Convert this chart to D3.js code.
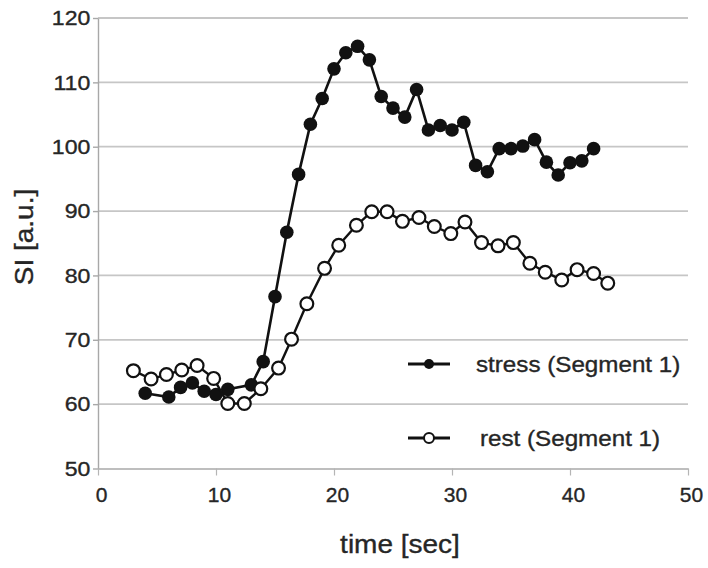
<!DOCTYPE html>
<html>
<head>
<meta charset="utf-8">
<script src="https://cdn.jsdelivr.net/npm/d3@7/dist/d3.min.js"></script>
<style>
  body { margin: 0; background: #fff; }
  text { font-family: "Liberation Sans", Arial, Helvetica, sans-serif; fill: #262626; stroke: #262626; stroke-width: 0.35px; }
</style>
</head>
<body>
<div id="chart"></div>
<script>
'use strict';

// data
var stressTime = [4, 6, 7, 8, 9, 10, 11, 13, 14, 15, 16, 17, 18, 19, 20, 21, 22, 23,
                  24, 25, 26, 27, 28, 29, 30, 31, 32, 33, 34, 35, 36, 37, 38, 39, 40, 41, 42];
var stressSI = [61.7, 61.1, 62.6, 63.3, 62.0, 61.5, 62.3, 63.0, 66.6, 76.7, 86.7,
                95.7, 103.5, 107.5, 112.1, 114.6, 115.6, 113.5, 107.8, 106.0, 104.6, 108.9,
                102.6, 103.3, 102.6, 103.8, 97.1, 96.1, 99.7, 99.7, 100.1, 101.1, 97.6, 95.6,
                97.5, 97.8, 99.7];

var restTime = [3.0, 4.5, 5.8, 7.1, 8.4, 9.8, 11.0, 12.4, 13.8, 15.3, 16.4, 17.7, 19.2, 20.4,
                21.9, 23.2, 24.5, 25.8, 27.2, 28.5, 29.9, 31.1, 32.5, 33.9, 35.2, 36.6, 37.9,
                39.3, 40.6, 42.0, 43.2];
var restSI = [65.2, 63.9, 64.6, 65.3, 66.0, 64.0, 60.1, 60.1, 62.4, 65.6, 70.1, 75.6, 81.1,
              84.7, 87.8, 89.9, 89.9, 88.4, 89.0, 87.6, 86.5, 88.3, 85.1, 84.6, 85.1, 81.9,
              80.5, 79.3, 80.9, 80.3, 78.8];

var xTicks = [0, 10, 20, 30, 40, 50];
var yTicks = [50, 60, 70, 80, 90, 100, 110, 120];

var seriesNames = ["stress (Segment 1)", "rest (Segment 1)"];

// layout
var W = 708, H = 568,
    mLeft = 98, mTop = 18,
    plotW = 590, plotH = 450.5;

var svg = d3.select("#chart").append("svg")
  .attr("width", W)
  .attr("height", H);

var x = d3.scaleLinear().domain([0, 50]).range([mLeft, mLeft + plotW]);
var y = d3.scaleLinear().domain([50, 120]).range([mTop + plotH, mTop]);

// grid
svg.append("g").selectAll("line")
  .data(yTicks.filter(function (d) { return d > 50; }))
  .enter().append("line")
  .attr("x1", x(0)).attr("x2", x(50))
  .attr("y1", function (d) { return y(d); })
  .attr("y2", function (d) { return y(d); })
  .attr("stroke", "#c6c6c6")
  .attr("stroke-width", 1.8);

// y axis
var yAxis = svg.append("g")
  .attr("transform", "translate(" + mLeft + ",0)")
  .call(d3.axisLeft(y).tickValues(yTicks).tickSize(5).tickPadding(2).tickSizeOuter(0));
yAxis.select(".domain").attr("stroke", "#a8a8a8").attr("stroke-width", 1.4);
yAxis.selectAll(".tick line").attr("stroke", "#a8a8a8").attr("stroke-width", 1.4);
yAxis.selectAll(".tick text")
  .attr("font-size", 21)
  .attr("transform", "scale(1.1,1)");

// x axis
var xAxis = svg.append("g")
  .attr("transform", "translate(0," + (mTop + plotH) + ")")
  .call(d3.axisBottom(x).tickValues(xTicks).tickSize(7).tickPadding(12).tickSizeOuter(0));
xAxis.select(".domain").attr("stroke", "#a8a8a8").attr("stroke-width", 1.4);
xAxis.selectAll(".tick line").attr("stroke", "#b5b5b5").attr("stroke-width", 1.2);
xAxis.selectAll(".tick text")
  .attr("font-size", 21)
  .attr("x", 3);

// axis titles
svg.append("text")
  .attr("transform", "translate(400,553) scale(1.12,1)")
  .attr("text-anchor", "middle")
  .attr("font-size", 25)
  .text("time [sec]");

svg.append("text")
  .attr("transform", "translate(33,237) rotate(-90) scale(1.12,1)")
  .attr("text-anchor", "middle")
  .attr("font-size", 25)
  .text("SI [a.u.]");

// lines
var line = d3.line()
  .x(function (d) { return x(d[0]); })
  .y(function (d) { return y(d[1]); });

var stress = d3.zip(stressTime, stressSI);
var rest = d3.zip(restTime, restSI);

svg.append("path")
  .datum(stress)
  .attr("fill", "none")
  .attr("stroke", "#111")
  .attr("stroke-width", 2.6)
  .attr("d", line);

svg.append("g").selectAll("circle")
  .data(stress)
  .enter().append("circle")
  .attr("cx", function (d) { return x(d[0]); })
  .attr("cy", function (d) { return y(d[1]); })
  .attr("r", 6.8)
  .attr("fill", "#111");

svg.append("path")
  .datum(rest)
  .attr("fill", "none")
  .attr("stroke", "#111")
  .attr("stroke-width", 2.4)
  .attr("d", line);

svg.append("g").selectAll("circle")
  .data(rest)
  .enter().append("circle")
  .attr("cx", function (d) { return x(d[0]); })
  .attr("cy", function (d) { return y(d[1]); })
  .attr("r", 6.4)
  .attr("fill", "#fff")
  .attr("stroke", "#111")
  .attr("stroke-width", 2.2);

// legend
var legend = svg.append("g");
var legendRows = [
  { name: seriesNames[0], y: 364, tx: 476, filled: true },
  { name: seriesNames[1], y: 438, tx: 480, filled: false }
];
legendRows.forEach(function (r) {
  legend.append("line")
    .attr("x1", 408).attr("x2", 450)
    .attr("y1", r.y).attr("y2", r.y)
    .attr("stroke", "#111")
    .attr("stroke-width", 2.8);
  legend.append("circle")
    .attr("cx", 429).attr("cy", r.y)
    .attr("r", 5)
    .attr("fill", r.filled ? "#111" : "#fff")
    .attr("stroke", "#111")
    .attr("stroke-width", r.filled ? 0 : 2);
  legend.append("text")
    .attr("transform", "translate(" + r.tx + "," + (r.y + 8) + ") scale(1.1,1)")
    .attr("font-size", 22)
    .text(r.name);
});
</script>
</body>
</html>
